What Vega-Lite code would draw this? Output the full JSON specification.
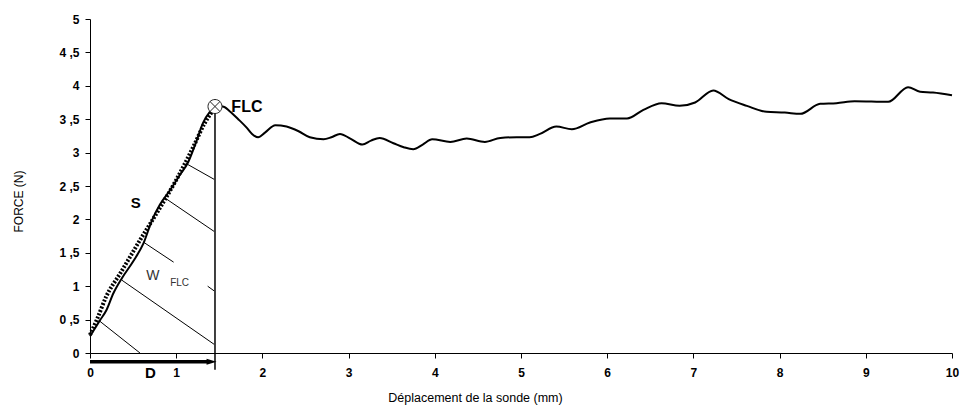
{
  "$schema": "https://vega.github.io/schema/vega-lite/v6.json",
  "width": 862,
  "height": 334,
  "autosize": {"type": "none"},
  "padding": {"left": 90, "top": 19, "right": 14, "bottom": 57},
  "background": "white",
  "config": {
    "view": {"stroke": null},
    "font": "Liberation Sans",
    "axis": {"grid": false, "domainColor": "black", "tickColor": "black", "labelColor": "black", "titleColor": "black", "labelFont": "Liberation Sans", "titleFont": "Liberation Sans", "labelOverlap": false, "labelFlush": false}
  },
  "datasets": {
    "curve": [
      {"x": 0, "y": 0.25}, {"x": 0.116, "y": 0.49}, {"x": 0.19, "y": 0.64}, {"x": 0.27, "y": 0.89},
      {"x": 0.37, "y": 1.12}, {"x": 0.5, "y": 1.37}, {"x": 0.62, "y": 1.64}, {"x": 0.72, "y": 1.99},
      {"x": 0.81, "y": 2.22}, {"x": 0.93, "y": 2.44}, {"x": 1.04, "y": 2.66}, {"x": 1.14, "y": 2.86},
      {"x": 1.24, "y": 3.19}, {"x": 1.31, "y": 3.44}, {"x": 1.39, "y": 3.61}, {"x": 1.47, "y": 3.69},
      {"x": 1.54, "y": 3.69}, {"x": 1.62, "y": 3.62}, {"x": 1.72, "y": 3.5}, {"x": 1.82, "y": 3.37},
      {"x": 1.88, "y": 3.28}, {"x": 1.95, "y": 3.23}, {"x": 2.03, "y": 3.3}, {"x": 2.15, "y": 3.41},
      {"x": 2.28, "y": 3.39}, {"x": 2.42, "y": 3.32}, {"x": 2.55, "y": 3.23}, {"x": 2.71, "y": 3.2},
      {"x": 2.8, "y": 3.23}, {"x": 2.9, "y": 3.28}, {"x": 3.02, "y": 3.21}, {"x": 3.16, "y": 3.12},
      {"x": 3.26, "y": 3.18}, {"x": 3.36, "y": 3.22}, {"x": 3.52, "y": 3.14}, {"x": 3.64, "y": 3.08},
      {"x": 3.75, "y": 3.05}, {"x": 3.86, "y": 3.12}, {"x": 3.97, "y": 3.2}, {"x": 4.18, "y": 3.16},
      {"x": 4.37, "y": 3.21}, {"x": 4.58, "y": 3.16}, {"x": 4.76, "y": 3.22}, {"x": 4.95, "y": 3.23},
      {"x": 5.1, "y": 3.23}, {"x": 5.22, "y": 3.28}, {"x": 5.41, "y": 3.39}, {"x": 5.59, "y": 3.35},
      {"x": 5.8, "y": 3.45}, {"x": 6.03, "y": 3.51}, {"x": 6.23, "y": 3.51}, {"x": 6.42, "y": 3.64},
      {"x": 6.63, "y": 3.74}, {"x": 6.84, "y": 3.7}, {"x": 7.02, "y": 3.75}, {"x": 7.23, "y": 3.93},
      {"x": 7.41, "y": 3.8}, {"x": 7.62, "y": 3.7}, {"x": 7.85, "y": 3.61}, {"x": 8.06, "y": 3.6},
      {"x": 8.24, "y": 3.58}, {"x": 8.47, "y": 3.73}, {"x": 8.66, "y": 3.74}, {"x": 8.87, "y": 3.77},
      {"x": 9.26, "y": 3.76}, {"x": 9.49, "y": 3.98}, {"x": 9.63, "y": 3.91}, {"x": 9.78, "y": 3.9},
      {"x": 10.0, "y": 3.86}
    ],
    "slope": [
      {"x": 0, "y": 0.27}, {"x": 0.08, "y": 0.5}, {"x": 0.19, "y": 0.85}, {"x": 0.35, "y": 1.19},
      {"x": 0.58, "y": 1.69}, {"x": 0.81, "y": 2.17}, {"x": 1.0, "y": 2.59}, {"x": 1.2, "y": 3.09},
      {"x": 1.33, "y": 3.44}, {"x": 1.42, "y": 3.62}
    ],
    "hatch": [
      {"x": 0.1, "y": 0.49, "x2": 0.58, "y2": 0},
      {"x": 0.37, "y": 1.09, "x2": 1.44, "y2": 0.13},
      {"x": 0.62, "y": 1.66, "x2": 0.97, "y2": 1.36},
      {"x": 1.365, "y": 1.0, "x2": 1.44, "y2": 0.93},
      {"x": 0.87, "y": 2.32, "x2": 1.44, "y2": 1.82},
      {"x": 1.11, "y": 2.84, "x2": 1.44, "y2": 2.6}
    ],
    "vline": [{"x": 1.45, "y": -0.25, "y2": 3.64}],
    "arrow": [{"x": 0, "x2": 1.37, "y": -0.13}],
    "arrowhead": [{"x": 1.41, "y": -0.13}],
    "flc": [{"x": 1.45, "y": 3.69}]
  },
  "encoding": {
    "x": {"field": "x", "type": "quantitative",
      "scale": {"domain": [0, 10], "nice": false, "zero": false},
      "axis": {"values": [0,1,2,3,4,5,6,7,8,9,10], "format": "d", "tickSize": 5, "labelPadding": 9, "labelFontSize": 12, "labelFontWeight": "bold",
        "title": "Déplacement de la sonde (mm)", "titleFontSize": 12.5, "titleFontWeight": "normal", "titleX": 385, "titleY": 38, "titleBaseline": "top"}},
    "y": {"field": "y", "type": "quantitative",
      "scale": {"domain": [0, 5], "nice": false, "zero": false},
      "axis": {"values": [0,0.5,1,1.5,2,2.5,3,3.5,4,4.5,5], "tickCount": 11, "tickSize": 5, "labelPadding": 6, "labelFontSize": 12, "labelFontWeight": "bold",
        "labelExpr": "datum.value % 1 ? floor(datum.value) + ' ,5' : '' + datum.value",
        "title": "FORCE (N)", "titleFontSize": 12, "titleFontWeight": "normal", "titleAngle": -90, "titleX": -72, "titleY": 182, "titleBaseline": "middle", "titleAlign": "center"}}
  },
  "layer": [
    {
      "data": {"name": "curve"},
      "mark": {"type": "line", "color": "black", "strokeWidth": 2, "interpolate": "monotone", "clip": false}
    },
    {
      "data": {"name": "slope"},
      "mark": {"type": "line", "color": "black", "strokeWidth": 4, "strokeDash": [2, 1.6], "interpolate": "monotone"}
    },
    {
      "data": {"name": "hatch"},
      "mark": {"type": "rule", "color": "black", "strokeWidth": 1},
      "encoding": {
        "x2": {"field": "x2"},
        "y2": {"field": "y2"}
      }
    },
    {
      "data": {"name": "vline"},
      "mark": {"type": "rule", "color": "black", "strokeWidth": 1.5, "clip": false},
      "encoding": {
        "y2": {"field": "y2"}
      }
    },
    {
      "data": {"name": "arrow"},
      "mark": {"type": "rule", "color": "black", "strokeWidth": 3.5, "clip": false},
      "encoding": {
        "x2": {"field": "x2"}
      }
    },
    {
      "data": {"name": "arrowhead"},
      "mark": {"type": "point", "shape": "M-1,-0.6L1,0L-1,0.6Z", "filled": true, "color": "black", "size": 100, "opacity": 1, "clip": false}
    },
    {
      "data": {"name": "flc"},
      "mark": {"type": "point", "shape": "M1,0A1,1,0,1,1,-1,0A1,1,0,1,1,1,0M-0.7,-0.7L0.7,0.7M0.7,-0.7L-0.7,0.7", "filled": false, "color": "#222", "strokeWidth": 1, "size": 196, "opacity": 1, "fill": "white", "fillOpacity": 1}
    },
    {
      "data": {"values": [{"x": 1.64, "y": 3.68, "t": "FLC"}]},
      "mark": {"type": "text", "align": "left", "baseline": "middle", "fontSize": 16, "fontWeight": "bold", "color": "black"},
      "encoding": {"text": {"field": "t"}}
    },
    {
      "data": {"values": [{"x": 0.53, "y": 2.24, "t": "S"}, {"x": 0.7, "y": -0.3, "t": "D"}]},
      "mark": {"type": "text", "align": "center", "baseline": "middle", "fontSize": 15, "fontWeight": "bold", "color": "black", "clip": false},
      "encoding": {"text": {"field": "t"}}
    },
    {
      "data": {"values": [{"x": 0.73, "y": 1.15, "t": "W"}]},
      "mark": {"type": "text", "align": "center", "baseline": "middle", "fontSize": 14, "color": "#333"},
      "encoding": {"text": {"field": "t"}}
    },
    {
      "data": {"values": [{"x": 1.04, "y": 1.05, "t": "FLC"}]},
      "mark": {"type": "text", "align": "center", "baseline": "middle", "fontSize": 10, "color": "#333"},
      "encoding": {"text": {"field": "t"}}
    }
  ]
}
